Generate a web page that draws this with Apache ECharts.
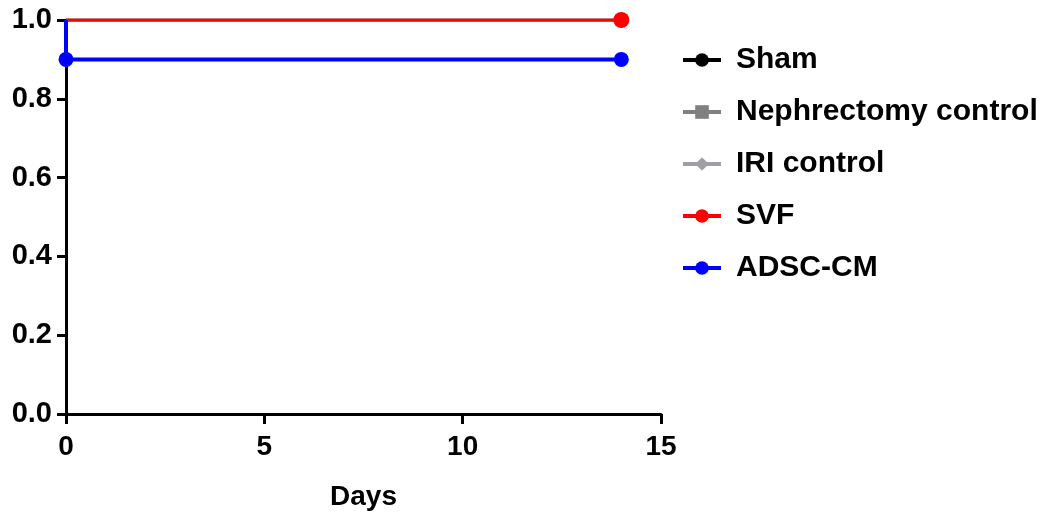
<!DOCTYPE html>
<html>
<head>
<meta charset="utf-8">
<script src="https://cdn.jsdelivr.net/npm/echarts@6/dist/echarts.min.js"></script>
<style>
  html, body { margin: 0; padding: 0; background: #fff; }
  #main { width: 1051px; height: 518px; }
</style>
</head>
<body>
<div id="main"></div>
<script>
// survival curves (Kaplan-Meier steps), x = days, y = fraction surviving
var seriesNames = ['Sham', 'Nephrectomy control', 'IRI control', 'SVF', 'ADSC-CM'];
var shamDays = [0, 14];
var shamSurv = [1, 1];
var nephDays = [0, 14];
var nephSurv = [1, 1];
var iriDays = [0, 14];
var iriSurv = [1, 1];
var svfDays = [0, 14];
var svfSurv = [1, 1];
var adscDays = [0, 0, 14];
var adscSurv = [1, 0.9, 0.9];
// which points carry a marker
var shamMarks = [false, true];
var nephMarks = [false, true];
var iriMarks = [false, true];
var svfMarks = [false, true];
var adscMarks = [false, true, true];
var xTicks = [0, 5, 10, 15];

function pts(xs, ys, marks, size) {
  return xs.map(function (x, i) {
    return { value: [x, ys[i]], symbolSize: marks[i] ? size : 0 };
  });
}

var font = 'Liberation Sans, Arial, sans-serif';

function mk(name, color, symbol, width, data) {
  return {
    name: name,
    type: 'line',
    data: data,
    symbol: symbol,
    showAllSymbol: true,
    itemStyle: { color: color, borderWidth: 0 },
    lineStyle: { color: color, width: width },
    animation: false
  };
}

var chart = echarts.init(document.getElementById('main'));
var option = {
  backgroundColor: '#fff',
  grid: { left: 66, right: 390, top: 20, bottom: 104 },
  legend: {
    orient: 'vertical',
    left: 676,
    top: 40,
    itemWidth: 38,
    itemHeight: 17,
    itemGap: 22,
    lineStyle: { width: 4 },
    textStyle: { fontFamily: font, fontWeight: 'bold', fontSize: 30, color: '#000', padding: [0, 0, 0, 10] },
    data: seriesNames
  },
  xAxis: {
    type: 'value',
    min: 0,
    max: 15,
    interval: 5,
    name: 'Days',
    nameLocation: 'middle',
    nameGap: 69,
    nameTextStyle: { fontFamily: font, fontWeight: 'bold', fontSize: 28, color: '#000' },
    axisLine: { show: true, onZero: false, lineStyle: { color: '#000', width: 3 } },
    axisTick: { show: true, length: 10, lineStyle: { color: '#000', width: 3 } },
    axisLabel: {
      fontFamily: font, fontWeight: 'bold', fontSize: 28, color: '#000', margin: 19,
      customValues: xTicks
    },
    splitLine: { show: false }
  },
  yAxis: {
    type: 'value',
    min: 0,
    max: 1,
    interval: 0.2,
    axisLine: { show: true, lineStyle: { color: '#000', width: 3 } },
    axisTick: { show: true, length: 9, lineStyle: { color: '#000', width: 3 } },
    axisLabel: {
      fontFamily: font, fontWeight: 'bold', fontSize: 29, color: '#000', margin: 14,
      formatter: function (v) { return v.toFixed(1); }
    },
    splitLine: { show: false }
  },
  series: [
    mk(seriesNames[0], '#000000', 'circle', 3, pts(shamDays, shamSurv, shamMarks, 14)),
    mk(seriesNames[1], '#808080', 'rect', 3, pts(nephDays, nephSurv, nephMarks, 11)),
    mk(seriesNames[2], '#a0a0a4', 'diamond', 3, pts(iriDays, iriSurv, iriMarks, 13)),
    mk(seriesNames[3], '#ff0000', 'circle', 3, pts(svfDays, svfSurv, svfMarks, 16)),
    mk(seriesNames[4], '#0000ff', 'circle', 4, pts(adscDays, adscSurv, adscMarks, 15))
  ]
};
chart.setOption(option);
</script>
</body>
</html>
